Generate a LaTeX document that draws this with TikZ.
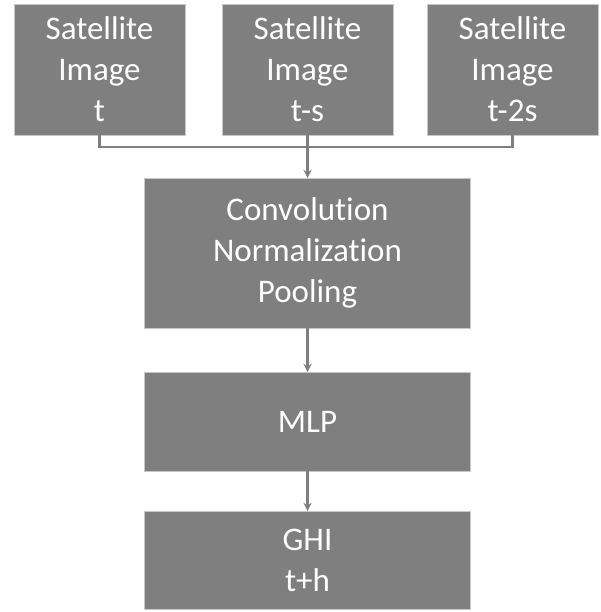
\documentclass[tikz,border=0pt]{standalone}
\usepackage{fontspec}
\setmainfont{Carlito}[Ligatures={NoCommon}]
\usepackage{tikz}
\usetikzlibrary{arrows, positioning}

\definecolor{boxgray}{HTML}{7F7F7F}
\definecolor{edgegray}{HTML}{C8C8C8}

\begin{document}
\begin{tikzpicture}[
    block/.style={rectangle, draw=edgegray, fill=boxgray, line width=0.8pt, outer sep=0pt, inner sep=0pt, align=center, text=white, font=\fontsize{33}{41}\selectfont},
    sat/.style={block, minimum width=171pt, minimum height=131pt},
    wide/.style={block, minimum width=326pt},
    link/.style={draw=boxgray, line width=2.6pt},
    flow/.style={link, ->, >=stealth}
]
    \useasboundingbox (0,0) rectangle (600pt,-612pt);

    \node (sat2) [sat] at (307.5pt,-69.5pt) {Satellite\\Image\\t-s};
    \node (sat1) [sat, left=37pt of sat2] {Satellite\\Image\\t};
    \node (sat3) [sat, right=34pt of sat2] {Satellite\\Image\\t-2s};

    \node (conv) [wide, minimum height=150pt, below=43pt of sat2] {Convolution\\Normalization\\Pooling};
    \node (mlp) [wide, minimum height=99pt, below=44pt of conv] {MLP};
    \node (ghi) [wide, minimum height=98pt, below=40pt of mlp] {GHI\\t+h};

    \coordinate (join) at ([yshift=-12pt]sat2.south);

    \draw[link] (sat1.south) |- (join) -| (sat3.south);
    \draw[flow] (sat2.south) -- (conv.north);
    \draw[flow] (conv) -- (mlp);
    \draw[flow] (mlp) -- (ghi);
\end{tikzpicture}
\end{document}
